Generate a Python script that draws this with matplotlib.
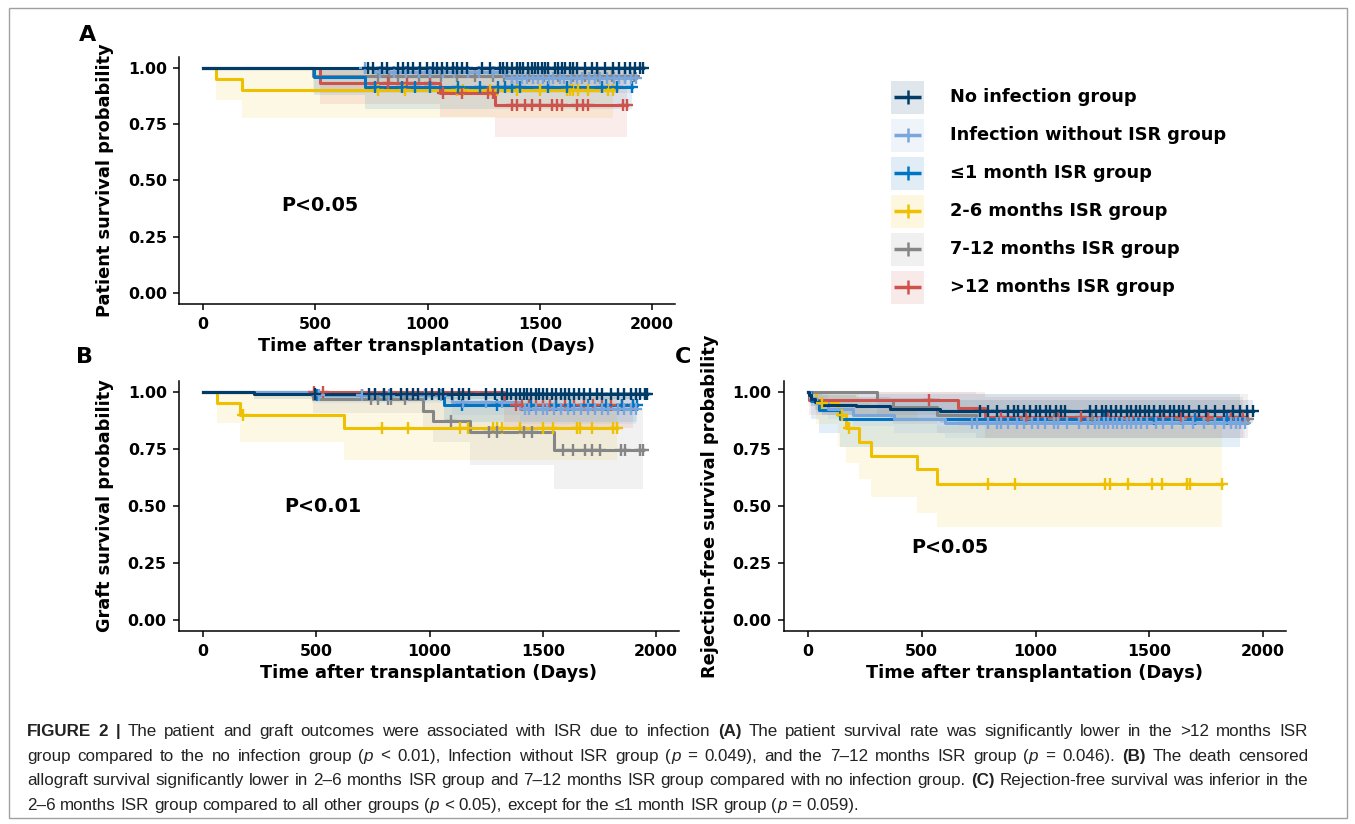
import numpy as np
import matplotlib
matplotlib.use('Agg')
import matplotlib.pyplot as plt
from matplotlib.patches import Rectangle
from matplotlib.ticker import FormatStrFormatter
from matplotlib import font_manager

#---values (Kaplan-Meier curves)
#each group: t = times where the curve drops, s = survival after the drop,
#lo/hi = 95% CI band on each step, cens = censored times (last one = end of follow-up)

GROUPS = ['No infection group', 'Infection without ISR group', '\u22641 month ISR group',
          '2-6 months ISR group', '7-12 months ISR group', '>12 months ISR group']
COLORS = ['#003C67', '#7AA6DC', '#0073C2', '#EFC000', '#868686', '#CD534C']

#-panel A: patient survival
A_NOINF = dict(t=[0], s=[1.0], lo=[1.0], hi=[1.0],
               cens=[736, 759, 796, 818, 870, 892, 914, 937, 967, 997, 1026, 1041, 1063, 1085,
                     1115, 1130, 1152, 1174, 1241, 1278, 1323, 1338, 1352, 1375, 1397, 1412, 1427,
                     1449, 1464, 1479, 1494, 1508, 1523, 1538, 1568, 1583, 1598, 1613, 1635, 1650,
                     1665, 1702, 1732, 1754, 1791, 1828, 1851, 1880, 1902, 1925, 1947, 1960])
A_INF = dict(t=[0, 760, 1350], s=[1.0, 0.98, 0.955], lo=[1.0, 0.95, 0.92], hi=[1.0, 1.0, 0.99],
             cens=[720, 790, 850, 905, 960, 1010, 1070, 1120, 1180, 1230, 1290, 1340, 1375, 1400,
                   1420, 1445, 1470, 1490, 1515, 1540, 1560, 1590, 1610, 1640, 1665, 1690, 1720,
                   1745, 1770, 1800, 1830, 1855, 1880, 1905, 1930])
A_LE1 = dict(t=[0, 495, 720], s=[1.0, 0.958, 0.917], lo=[1.0, 0.88, 0.82], hi=[1.0, 1.0, 1.0],
             cens=[766, 885, 944, 1011, 1137, 1234, 1316, 1345, 1375, 1412, 1538, 1620, 1776,
                   1843, 1910])
A_2TO6 = dict(t=[0, 58, 172], s=[1.0, 0.95, 0.90], lo=[1.0, 0.858, 0.776], hi=[1.0, 1.0, 1.0],
              cens=[781, 900, 1130, 1160, 1278, 1308, 1397, 1501, 1620, 1635, 1650, 1672, 1716,
                    1806, 1826])
A_7TO12 = dict(t=[0, 490], s=[1.0, 0.963], lo=[1.0, 0.89], hi=[1.0, 1.0],
               cens=[780, 830, 870, 960, 1010, 1060, 1130, 1210, 1290, 1340, 1400, 1450, 1520,
                     1580, 1650, 1700, 1760, 1820, 1880, 1920])
A_GT12 = dict(t=[0, 521, 1056, 1300], s=[1.0, 0.932, 0.888, 0.836],
              lo=[1.0, 0.84, 0.78, 0.695], hi=[1.0, 1.0, 1.0, 1.0],
              cens=[826, 908, 1011, 1070, 1152, 1271, 1293, 1375, 1397, 1434, 1464, 1501, 1553,
                    1575, 1597, 1664, 1694, 1716, 1872, 1888])

#-panel B: graft survival
B_NOINF = dict(t=[0, 225], s=[1.0, 0.99], lo=[1.0, 0.97], hi=[1.0, 1.0],
               cens=[495, 735, 760, 800, 830, 875, 900, 925, 950, 985, 1010, 1040, 1060, 1100,
                     1130, 1150, 1175, 1250, 1290, 1320, 1340, 1360, 1380, 1400, 1415, 1430, 1450,
                     1470, 1485, 1500, 1520, 1540, 1560, 1580, 1600, 1615, 1640, 1660, 1680, 1710,
                     1740, 1760, 1800, 1830, 1860, 1890, 1910, 1930, 1950, 1960])
B_INF = dict(t=[0, 480, 1100, 1400], s=[1.0, 0.985, 0.955, 0.925],
             lo=[1.0, 0.95, 0.90, 0.86], hi=[1.0, 1.0, 1.0, 0.98],
             cens=[510, 700, 760, 820, 900, 980, 1050, 1150, 1250, 1320, 1420, 1440, 1470, 1500,
                   1520, 1550, 1580, 1610, 1640, 1670, 1700, 1730, 1760, 1790, 1830, 1860, 1890,
                   1910])
B_LE1 = dict(t=[0, 500, 1065], s=[1.0, 0.985, 0.943], lo=[1.0, 0.96, 0.87], hi=[1.0, 1.0, 1.0],
             cens=[505, 700, 800, 1142, 1300, 1450, 1560, 1620, 1700, 1780, 1850, 1900, 1915])
B_2TO6 = dict(t=[0, 60, 163, 622], s=[1.0, 0.95, 0.899, 0.843],
              lo=[1.0, 0.864, 0.782, 0.70], hi=[1.0, 1.0, 1.0, 0.98],
              cens=[178, 789, 906, 1135, 1171, 1282, 1297, 1319, 1400, 1503, 1547, 1650, 1664,
                    1716, 1812, 1826])
B_7TO12 = dict(t=[0, 486, 971, 1016, 1178, 1550], s=[1.0, 0.969, 0.918, 0.874, 0.826, 0.746],
               lo=[1.0, 0.91, 0.84, 0.78, 0.68, 0.575], hi=[1.0, 1.0, 0.99, 0.98, 0.96, 0.93],
               cens=[743, 772, 816, 831, 890, 1097, 1262, 1299, 1417, 1454, 1590, 1634, 1686,
                     1716, 1753, 1847, 1862, 1928, 1943])
B_GT12 = dict(t=[0, 1330], s=[1.0, 0.943], lo=[1.0, 0.84], hi=[1.0, 1.0],
              cens=[490, 530, 1380, 1410, 1440, 1470, 1500, 1530, 1560, 1600, 1640, 1680, 1720,
                    1760, 1800, 1850, 1900])

#-panel C: rejection-free survival
C_NOINF = dict(t=[0, 5, 15, 30, 60, 210, 360, 580],
               s=[1.0, 0.985, 0.97, 0.955, 0.945, 0.937, 0.927, 0.915],
               lo=[1.0, 0.96, 0.94, 0.92, 0.90, 0.89, 0.88, 0.865],
               hi=[1.0, 1.0, 1.0, 0.99, 0.985, 0.98, 0.975, 0.965],
               cens=[756, 790, 830, 880, 905, 925, 950, 975, 1000, 1020, 1045, 1065, 1090, 1110,
                     1130, 1240, 1265, 1290, 1310, 1330, 1355, 1375, 1400, 1420, 1440, 1460, 1480,
                     1500, 1520, 1545, 1565, 1590, 1610, 1630, 1650, 1675, 1720, 1750, 1790, 1830,
                     1870, 1900, 1930, 1955])
C_INF = dict(t=[0, 10, 35, 90, 200, 380, 600], s=[1.0, 0.975, 0.95, 0.925, 0.90, 0.88, 0.865],
             lo=[1.0, 0.94, 0.91, 0.88, 0.85, 0.82, 0.80],
             hi=[1.0, 1.0, 0.99, 0.97, 0.95, 0.935, 0.925],
             cens=[720, 745, 790, 830, 850, 880, 920, 950, 985, 1010, 1040, 1080, 1100, 1140,
                   1190, 1230, 1260, 1280, 1300, 1320, 1340, 1360, 1380, 1400, 1420, 1440, 1465,
                   1490, 1530, 1560, 1600, 1650, 1690, 1740, 1790, 1830, 1860, 1880, 1900, 1920])
C_LE1 = dict(t=[0, 15, 50, 140], s=[1.0, 0.96, 0.92, 0.88], lo=[1.0, 0.88, 0.82, 0.76],
             hi=[1.0, 1.0, 1.0, 0.99], cens=[1300, 1520, 1700, 1840, 1900])
C_2TO6 = dict(t=[0, 35, 130, 165, 225, 275, 478, 566],
              s=[1.0, 0.95, 0.899, 0.84, 0.782, 0.719, 0.661, 0.596],
              lo=[1.0, 0.86, 0.76, 0.69, 0.617, 0.54, 0.47, 0.41],
              hi=[1.0, 1.0, 1.0, 0.99, 0.96, 0.92, 0.88, 0.85],
              cens=[60, 150, 180, 793, 910, 1305, 1327, 1408, 1510, 1554, 1664, 1679, 1818])
C_7TO12 = dict(t=[0, 305, 375, 565, 740], s=[1.0, 0.967, 0.933, 0.90, 0.883],
               lo=[1.0, 0.90, 0.86, 0.82, 0.80], hi=[1.0, 1.0, 1.0, 1.0, 0.99],
               cens=[960, 1080, 1250, 1400, 1520, 1640, 1760, 1860, 1935])
C_GT12 = dict(t=[0, 5, 660, 780], s=[1.0, 0.965, 0.93, 0.89], lo=[1.0, 0.90, 0.85, 0.80],
              hi=[1.0, 1.0, 1.0, 0.98],
              cens=[531, 850, 960, 1100, 1200, 1320, 1420, 1560, 1640, 1700, 1760, 1860, 1910])

PANEL_A = [A_NOINF, A_INF, A_LE1, A_2TO6, A_7TO12, A_GT12]
PANEL_B = [B_NOINF, B_INF, B_LE1, B_2TO6, B_7TO12, B_GT12]
PANEL_C = [C_NOINF, C_INF, C_LE1, C_2TO6, C_7TO12, C_GT12]

CAPTION = [
    [('FIGURE 2 |', 'b'), (' The patient and graft outcomes were associated with ISR due to infection ', 'n'),
     ('(A)', 'b'), (' The patient survival rate was significantly lower in the >12 months ISR', 'n')],
    [('group compared to the no infection group (', 'n'), ('p', 'i'), (' < 0.01), Infection without ISR group (', 'n'),
     ('p', 'i'), (' = 0.049), and the 7\u201312 months ISR group (', 'n'), ('p', 'i'), (' = 0.046). ', 'n'),
     ('(B)', 'b'), (' The death censored', 'n')],
    [('allograft survival significantly lower in 2\u20136 months ISR group and 7\u201312 months ISR group compared with no infection group. ', 'n'),
     ('(C)', 'b'), (' Rejection-free survival was inferior in the', 'n')],
    [('2\u20136 months ISR group compared to all other groups (', 'n'), ('p', 'i'),
     (' < 0.05), except for the \u22641 month ISR group (', 'n'), ('p', 'i'), (' = 0.059).', 'n')],
]

#---figure
W, H = 1355, 824
fig = plt.figure(figsize=(W / 100, H / 100), dpi=100)
fig.patch.set_facecolor('white')

DRAW_ORDER = [3, 4, 5, 2, 1, 0]   #no infection group ends up on top


def km_curve(ax, g, col):
    end = max(g['cens'])
    t = np.append(g['t'], end)
    s = np.append(g['s'], g['s'][-1])
    lo = np.append(g['lo'], g['lo'][-1])
    hi = np.append(g['hi'], g['hi'][-1])
    ax.fill_between(t, lo, hi, step='post', color=col, alpha=0.11, lw=0, zorder=1)
    ax.step(t, s, where='post', color=col, lw=2.2, zorder=3)
    c = np.asarray(g['cens'], float)
    cy = s[np.searchsorted(t, c, side='right') - 1]
    ax.plot(c, cy, ls='none', marker='+', ms=9, mew=1.7, color=col, zorder=4)


def panel(box, data, ylabel, ptxt, pxy):
    l, t, r, b = box   #pixel box of the axes
    ax = fig.add_axes([l / W, 1 - b / H, (r - l) / W, (b - t) / H])
    for k in DRAW_ORDER:
        km_curve(ax, data[k], COLORS[k])
    ax.set_xlim(-105, 2100)
    ax.set_ylim(-0.05, 1.05)
    ax.set_xticks([0, 500, 1000, 1500, 2000])
    ax.set_yticks([0, 0.25, 0.5, 0.75, 1.0])
    ax.yaxis.set_major_formatter(FormatStrFormatter('%.2f'))
    for sp in ['top', 'right']:
        ax.spines[sp].set_visible(False)
    for sp in ['left', 'bottom']:
        ax.spines[sp].set_linewidth(1.1)
    ax.tick_params(length=4, width=1.1, labelsize=11.3, pad=5)
    for lab in ax.get_xticklabels() + ax.get_yticklabels():
        lab.set_fontweight('bold')
    ax.set_xlabel('Time after transplantation (Days)', fontsize=12.8, fontweight='bold', labelpad=4)
    ax.set_ylabel(ylabel, fontsize=12.8, fontweight='bold', labelpad=10)
    ax.text(pxy[0], pxy[1], ptxt, fontsize=13.8, fontweight='bold', ha='center', va='center')
    return ax


axA = panel((179.4, 56.75, 674.5, 304.25), PANEL_A, 'Patient survival probability', 'P<0.05', (521, 0.39))
axB = panel((179.2, 380.6, 678.7, 631.4), PANEL_B, 'Graft survival probability', 'P<0.01', (530, 0.50))
axC = panel((784.1, 380.6, 1285.8, 631.4), PANEL_C, 'Rejection-free survival probability', 'P<0.05', (624, 0.316))

#overlay in pixel coordinates for letters, legend, caption and frame
ov = fig.add_axes([0, 0, 1, 1])
ov.set_xlim(0, W)
ov.set_ylim(H, 0)
ov.axis('off')
ov.patch.set_alpha(0)

ov.add_patch(Rectangle((9, 8), 1338, 810, fill=False, edgecolor='#a0a0a0', lw=1))
for letter, x, y in [('A', 88, 35), ('B', 85, 357), ('C', 683, 357)]:
    ov.text(x, y, letter, fontsize=16, fontweight='bold', ha='center', va='center')

#-legend
for k, (name, col) in enumerate(zip(GROUPS, COLORS)):
    yc = 97 + 38 * k
    ov.add_patch(Rectangle((891, yc - 16.5), 33, 33, facecolor=col, alpha=0.12, lw=0))
    ov.plot([894, 921], [yc, yc], color=col, lw=2.5, solid_capstyle='butt')
    ov.plot([907.5], [yc], marker='+', ms=10, mew=1.8, color=col)
    ov.text(950, yc, name, fontsize=12.8, fontweight='bold', ha='left', va='center')

#-caption, justified like the journal layout
R = fig.canvas.get_renderer()
names = {f.name for f in font_manager.fontManager.ttflist}
CAP_FONT = ['Liberation Sans Narrow', 'Liberation Sans', 'DejaVu Sans']
CAP_FONT = [f for f in CAP_FONT if f in names] + ['DejaVu Sans']


def piece_kw(st, size):
    return dict(fontsize=size, family=CAP_FONT, color='#222222',
                fontweight='bold' if st == 'b' else 'normal',
                fontstyle='italic' if st == 'i' else 'normal')


def text_w(s, st, size):
    tt = ov.text(0, 0, s, **piece_kw(st, size))
    w = tt.get_window_extent(renderer=R).width
    tt.remove()
    return w


def split_words(line):
    words = [[]]
    for txt, st in line:
        parts = txt.split(' ')
        for k, p in enumerate(parts):
            if k > 0:
                words.append([])
            if p:
                words[-1].append((p, st))
    return [w for w in words if w]


x0, x1 = 27, 1308
cap_words = [split_words(line) for line in CAPTION]
base = 11
sp = text_w('a a', 'n', base) - text_w('aa', 'n', base)
nat = [sum(text_w(p, st, base) for w in ws for p, st in w) + sp * (len(ws) - 1) for ws in cap_words[:3]]
size = min(12.5, base * (x1 - x0 - 8) / max(nat))

for i, ws in enumerate(cap_words):
    yb = 736 + 24.7 * i
    widths = [[text_w(p, st, size) for p, st in w] for w in ws]
    total = sum(sum(w) for w in widths)
    if i < 3:
        gap = (x1 - x0 - total) / (len(ws) - 1)
    else:
        gap = text_w('a a', 'n', size) - text_w('aa', 'n', size)
    x = x0
    for w, ww in zip(ws, widths):
        for (p, st), pw in zip(w, ww):
            ov.text(x, yb, p, ha='left', va='baseline', **piece_kw(st, size))
            x += pw
        x += gap

fig.savefig('out.png', dpi=100, facecolor='white')
